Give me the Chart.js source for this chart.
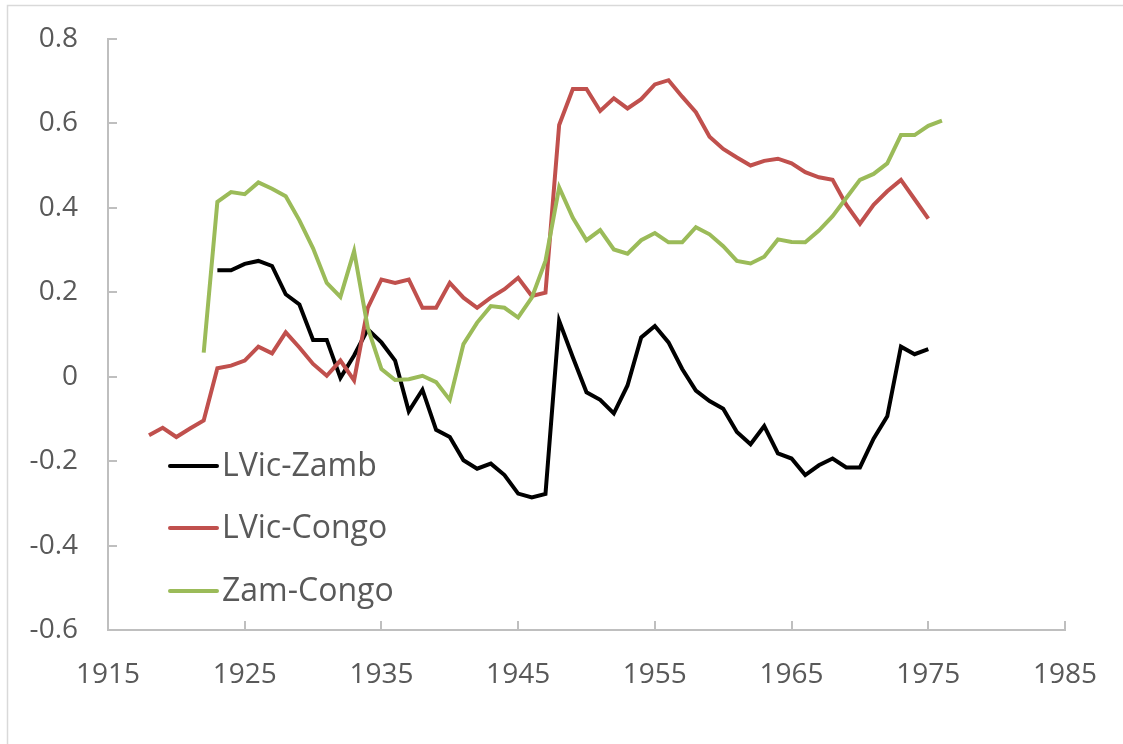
<!DOCTYPE html>
<html>
<head>
<meta charset="utf-8">
<script src="https://cdn.jsdelivr.net/npm/chart.js@4.4.1/dist/chart.umd.min.js"></script>
<style>
  body { margin: 0; background: #fff; }
</style>
</head>
<body>
<canvas id="corr_chart" width="1123" height="744"></canvas>
<script>
const years = [
  1918, 1919, 1920, 1921, 1922, 1923, 1924, 1925, 1926, 1927,
  1928, 1929, 1930, 1931, 1932, 1933, 1934, 1935, 1936, 1937,
  1938, 1939, 1940, 1941, 1942, 1943, 1944, 1945, 1946, 1947,
  1948, 1949, 1950, 1951, 1952, 1953, 1954, 1955, 1956, 1957,
  1958, 1959, 1960, 1961, 1962, 1963, 1964, 1965, 1966, 1967,
  1968, 1969, 1970, 1971, 1972, 1973, 1974, 1975, 1976
];

// LVic-Zamb : 1923-1975
const lvicZamb = [
  null, null, null, null, null, 0.252, 0.252, 0.267, 0.274, 0.262,
  0.195, 0.171, 0.087, 0.087, -0.003, 0.05, 0.112, 0.081, 0.038, -0.082,
  -0.031, -0.126, -0.143, -0.198, -0.218, -0.206, -0.233, -0.277, -0.286, -0.278,
  0.132, 0.046, -0.037, -0.055, -0.087, -0.021, 0.093, 0.12, 0.081, 0.018,
  -0.033, -0.058, -0.076, -0.131, -0.16, -0.117, -0.182, -0.194, -0.233, -0.21,
  -0.194, -0.215, -0.215, -0.147, -0.094, 0.071, 0.053, 0.065, null
];

// LVic-Congo : 1918-1975
const lvicCongo = [
  -0.139, -0.121, -0.143, -0.123, -0.104, 0.02, 0.026, 0.038, 0.071, 0.055,
  0.105, 0.069, 0.03, 0.002, 0.038, -0.009, 0.163, 0.23, 0.222, 0.23,
  0.163, 0.163, 0.222, 0.187, 0.163, 0.187, 0.207, 0.234, 0.191, 0.199,
  0.596, 0.681, 0.681, 0.629, 0.659, 0.635, 0.657, 0.692, 0.702, 0.663,
  0.626, 0.568, 0.539, 0.519, 0.5, 0.511, 0.516, 0.505, 0.484, 0.472,
  0.466, 0.407, 0.362, 0.407, 0.439, 0.466, 0.42, 0.374, null
];

// Zam-Congo : 1922-1976
const zamCongo = [
  null, null, null, null, 0.057, 0.414, 0.437, 0.432, 0.46, 0.445,
  0.427, 0.37, 0.304, 0.222, 0.189, 0.297, 0.116, 0.018, -0.008, -0.006,
  0.002, -0.013, -0.055, 0.077, 0.128, 0.167, 0.163, 0.14, 0.187, 0.274,
  0.448, 0.376, 0.323, 0.347, 0.301, 0.291, 0.323, 0.34, 0.318, 0.318,
  0.354, 0.337, 0.309, 0.274, 0.268, 0.284, 0.325, 0.319, 0.318, 0.346,
  0.38, 0.423, 0.466, 0.48, 0.505, 0.572, 0.572, 0.594, 0.606
];

const seriesNames = ['LVic-Zamb', 'LVic-Congo', 'Zam-Congo'];
const seriesColors = ['#000000', '#C0504D', '#9BBB59'];

const xMin = 1915, xMax = 1985, xStep = 10;
const yMin = -0.6, yMax = 0.8, yStep = 0.2;

const textColor = '#595959';
const axisColor = '#BFBFBF';
const fontFamily = '"Open Sans", Lato, sans-serif';

function toPoints(arr) {
  return years.map((yr, i) => ({ x: yr, y: arr[i] }));
}

// frame round the whole chart
const framePlugin = {
  id: 'frame',
  beforeDraw(chart) {
    const c = chart.ctx;
    c.save();
    c.strokeStyle = '#D9D9D9';
    c.lineWidth = 1.5;
    c.strokeRect(7.5, 5.5, chart.width + 20, chart.height + 20);
    c.restore();
  }
};

// inside tick marks, like Excel
const tickMarkPlugin = {
  id: 'tickMarks',
  afterDraw(chart) {
    const c = chart.ctx;
    const area = chart.chartArea;
    const xs = chart.scales.x, ys = chart.scales.y;
    c.save();
    c.strokeStyle = axisColor;
    c.lineWidth = 2;
    c.beginPath();
    xs.ticks.forEach(t => {
      const px = Math.round(xs.getPixelForValue(t.value));
      c.moveTo(px, area.bottom);
      c.lineTo(px, area.bottom - 9);
    });
    ys.ticks.forEach(t => {
      const py = Math.round(ys.getPixelForValue(t.value));
      c.moveTo(area.left, py);
      c.lineTo(area.left + 9, py);
    });
    c.stroke();
    c.restore();
  }
};

// legend sitting inside the plot, lower left
const insideLegend = {
  id: 'insideLegend',
  afterDatasetsDraw(chart) {
    const c = chart.ctx;
    const area = chart.chartArea;
    const x0 = area.left + 62;
    const rows = [area.bottom - 164, area.bottom - 102, area.bottom - 39];
    c.save();
    c.font = '32px ' + fontFamily;
    c.textBaseline = 'middle';
    c.lineCap = 'round';
    seriesNames.forEach((name, i) => {
      c.strokeStyle = seriesColors[i];
      c.lineWidth = 4;
      c.beginPath();
      c.moveTo(x0, rows[i]);
      c.lineTo(x0 + 47, rows[i]);
      c.stroke();
      c.fillStyle = textColor;
      c.fillText(name, x0 + 52, rows[i] + 1);
    });
    c.restore();
  }
};

const ctx = document.getElementById('corr_chart');

new Chart(ctx, {
  type: 'line',
  data: {
    datasets: [lvicZamb, lvicCongo, zamCongo].map((arr, i) => ({
      label: seriesNames[i],
      data: toPoints(arr),
      borderColor: seriesColors[i],
      backgroundColor: seriesColors[i],
      borderWidth: 4,
      pointRadius: 0,
      tension: 0,
      spanGaps: false,
      order: 3 - i   // last series drawn on top, as in Excel
    }))
  },
  options: {
    responsive: false,
    animation: false,
    layout: {
      padding: { top: 24, right: 58, bottom: 0, left: 0 }
    },
    plugins: {
      legend: { display: false },
      tooltip: { enabled: false }
    },
    scales: {
      x: {
        type: 'linear',
        min: xMin,
        max: xMax,
        grid: { display: false },
        border: { display: true, color: axisColor, width: 2 },
        ticks: {
          stepSize: xStep,
          padding: 20,
          color: textColor,
          font: { family: fontFamily, size: 28 },
          callback: v => String(v)
        },
        afterFit: s => { s.height = 114; }
      },
      y: {
        min: yMin,
        max: yMax,
        grid: { display: false },
        border: { display: true, color: axisColor, width: 2 },
        ticks: {
          stepSize: yStep,
          padding: 22,
          color: textColor,
          font: { family: fontFamily, size: 28 },
          callback: v => String(Number(v.toFixed(1)))
        },
        afterFit: s => { s.width = 108; }
      }
    }
  },
  plugins: [framePlugin, tickMarkPlugin, insideLegend]
});
</script>
</body>
</html>
